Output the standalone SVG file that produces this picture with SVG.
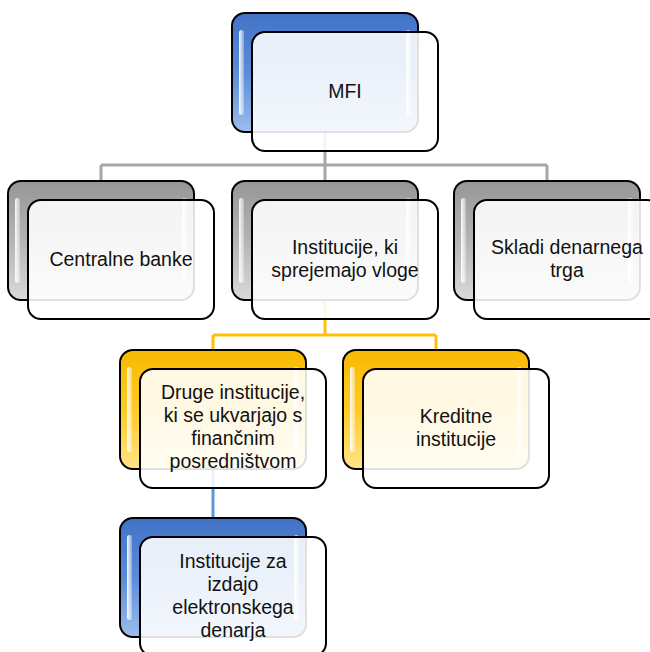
<svg xmlns="http://www.w3.org/2000/svg" width="650" height="652" viewBox="0 0 650 652">
<defs>
<linearGradient id="gBlue" x1="0" y1="0" x2="0" y2="1"><stop offset="0" stop-color="#4272c6"/><stop offset="0.5" stop-color="#5b8cd8"/><stop offset="1" stop-color="#9dbdec"/></linearGradient>
<linearGradient id="gGray" x1="0" y1="0" x2="0" y2="1"><stop offset="0" stop-color="#969696"/><stop offset="0.5" stop-color="#b4b4b4"/><stop offset="1" stop-color="#dadada"/></linearGradient>
<linearGradient id="gGold" x1="0" y1="0" x2="0" y2="1"><stop offset="0" stop-color="#f7b900"/><stop offset="0.5" stop-color="#ffca28"/><stop offset="1" stop-color="#ffe488"/></linearGradient>
<linearGradient id="gShine" x1="0" y1="0" x2="1" y2="0"><stop offset="0" stop-color="#fff" stop-opacity="0.95"/><stop offset="1" stop-color="#fff" stop-opacity="0.3"/></linearGradient>
</defs>
<style>
.back{stroke:#000;stroke-width:2}
.blue .back{fill:url(#gBlue)}
.gray .back{fill:url(#gGray)}
.gold .back{fill:url(#gGold)}
.shine{fill:url(#gShine)}
.front{fill:#fff;fill-opacity:0.88;stroke:#000;stroke-width:2}
text{font-family:"Liberation Sans",Arial,sans-serif;font-size:19.5px;fill:#111;text-anchor:middle}
.conn{fill:none;stroke-width:3}
</style>
<g id="connectors">
<path class="conn" stroke="#a6a6a6" d="M325,132 V165 M101,165 H547 M101,165 V181 M325,165 V181 M547,165 V181"/>
<path class="conn" stroke="#ffc000" d="M325,300 V335 M213,335 H436 M213,335 V350 M436,335 V350"/>
<path class="conn" stroke="#5b9bd5" d="M213,469 V518"/>
</g>
<g id="node-mfi" class="blue">
<rect class="back" x="232" y="13" width="186" height="119" rx="13"/>
<rect class="shine" x="239" y="30" width="5" height="85" rx="2.5"/>
<rect class="shine" x="406" y="30" width="5" height="85" rx="2.5"/>
<rect class="front" x="252" y="32" width="186" height="119" rx="13"/>
<text x="345" y="98">MFI</text>
</g>
<g id="node-centralne" class="gray">
<rect class="back" x="8" y="181" width="186" height="119" rx="13"/>
<rect class="shine" x="15" y="198" width="5" height="85" rx="2.5"/>
<rect class="shine" x="182" y="198" width="5" height="85" rx="2.5"/>
<rect class="front" x="28" y="200" width="186" height="119" rx="13"/>
<text x="121" y="266">Centralne banke</text>
</g>
<g id="node-institucije" class="gray">
<rect class="back" x="232" y="181" width="186" height="119" rx="13"/>
<rect class="shine" x="239" y="198" width="5" height="85" rx="2.5"/>
<rect class="shine" x="406" y="198" width="5" height="85" rx="2.5"/>
<rect class="front" x="252" y="200" width="186" height="119" rx="13"/>
<text x="345" y="254">Institucije, ki</text>
<text x="345" y="277">sprejemajo vloge</text>
</g>
<g id="node-skladi" class="gray">
<rect class="back" x="454" y="181" width="186" height="119" rx="13"/>
<rect class="shine" x="461" y="198" width="5" height="85" rx="2.5"/>
<rect class="shine" x="628" y="198" width="5" height="85" rx="2.5"/>
<rect class="front" x="474" y="200" width="186" height="119" rx="13"/>
<text x="567" y="254">Skladi denarnega</text>
<text x="567" y="277">trga</text>
</g>
<g id="node-druge" class="gold">
<rect class="back" x="120" y="350" width="186" height="119" rx="13"/>
<rect class="shine" x="127" y="367" width="5" height="85" rx="2.5"/>
<rect class="shine" x="294" y="367" width="5" height="85" rx="2.5"/>
<rect class="front" x="140" y="369" width="186" height="119" rx="13"/>
<text x="233" y="399">Druge institucije,</text>
<text x="233" y="422">ki se ukvarjajo s</text>
<text x="233" y="445">finančnim</text>
<text x="233" y="468">posredništvom</text>
</g>
<g id="node-kreditne" class="gold">
<rect class="back" x="343" y="350" width="186" height="119" rx="13"/>
<rect class="shine" x="350" y="367" width="5" height="85" rx="2.5"/>
<rect class="shine" x="517" y="367" width="5" height="85" rx="2.5"/>
<rect class="front" x="363" y="369" width="186" height="119" rx="13"/>
<text x="456" y="423">Kreditne</text>
<text x="456" y="446">institucije</text>
</g>
<g id="node-emoney" class="blue">
<rect class="back" x="120" y="518" width="186" height="119" rx="13"/>
<rect class="shine" x="127" y="535" width="5" height="85" rx="2.5"/>
<rect class="shine" x="294" y="535" width="5" height="85" rx="2.5"/>
<rect class="front" x="140" y="537" width="186" height="119" rx="13"/>
<text x="233" y="568">Institucije za</text>
<text x="233" y="591">izdajo</text>
<text x="233" y="614">elektronskega</text>
<text x="233" y="637">denarja</text>
</g>
</svg>
